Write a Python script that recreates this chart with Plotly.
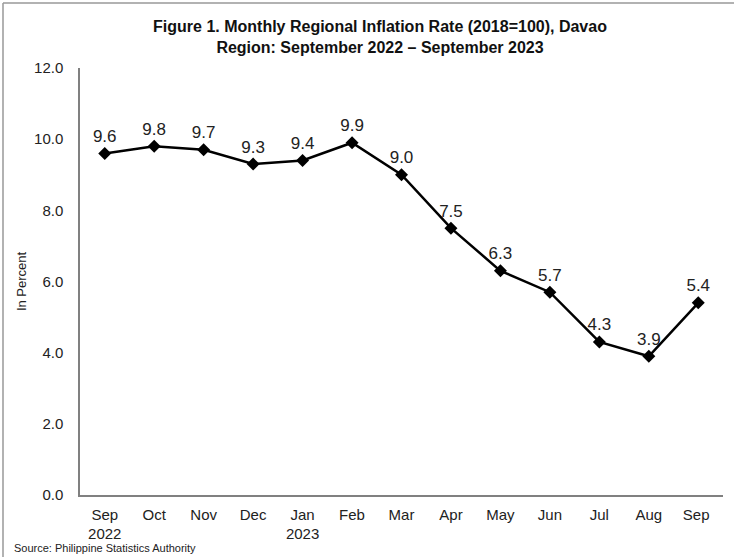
import plotly.graph_objects as go

months = ["Sep<br>2022", "Oct", "Nov", "Dec", "Jan<br>2023", "Feb", "Mar",
          "Apr", "May", "Jun", "Jul", "Aug", "Sep "]
inflation = [9.6, 9.8, 9.7, 9.3, 9.4, 9.9, 9.0, 7.5, 6.3, 5.7, 4.3, 3.9, 5.4]
y_ticks = [0, 2, 4, 6, 8, 10, 12]
y_tick_labels = ["0.0", "2.0", "4.0", "6.0", "8.0", "10.0", "12.0"]

W, H = 734, 557
L, R, T, B = 80, 11, 68, 62
pw, ph = W - L - R, H - T - B
FONT = "Liberation Sans, Arial, sans-serif"

fig = go.Figure()
fig.add_trace(go.Scatter(
    x=months, y=inflation,
    mode="lines+markers+text",
    line=dict(color="black", width=2.5),
    marker=dict(symbol="diamond", size=10, color="black"),
    text=[f"{v:.1f}" for v in inflation],
    textposition="top center",
    textfont=dict(family=FONT, size=17, color="#222"),
    cliponaxis=False,
    showlegend=False,
    hoverinfo="skip",
))

fig.update_layout(
    width=W, height=H,
    margin=dict(l=L, r=R, t=T, b=B),
    paper_bgcolor="white", plot_bgcolor="white",
    title=dict(
        text="<b>Figure 1. Monthly Regional Inflation Rate (2018=100), Davao<br>Region: September 2022 – September 2023</b>",
        x=380 / W, xanchor="center", y=1 - 32 / H, yanchor="middle",
        font=dict(family="Liberation Sans Narrow, Arial Narrow, " + FONT, size=16, color="#111"),
    ),
    xaxis=dict(
        type="category", range=[-0.5, 12.5],
        showline=True, linecolor="#808080", linewidth=1.5,
        ticks="", showgrid=False, ticklabelstandoff=5,
        tickfont=dict(family=FONT, size=15, color="#222"),
    ),
    yaxis=dict(
        range=[0, 12], tickvals=y_ticks, ticktext=y_tick_labels,
        showline=True, linecolor="#808080", linewidth=1.5,
        ticks="", showgrid=False, zeroline=False, ticklabelstandoff=12,
        tickfont=dict(family=FONT, size=15, color="#222"),
        title=dict(text="In Percent", standoff=4,
                   font=dict(family=FONT, size=13, color="#222")),
    ),
)

fig.add_annotation(
    text="Source: Philippine Statistics Authority",
    xref="paper", yref="paper",
    x=(12 - L) / pw, y=-(548 - (T + ph)) / ph,
    xanchor="left", yanchor="middle", showarrow=False,
    font=dict(family=FONT, size=11, color="#222"),
)

# image border (top and left)
fig.add_shape(type="line", xref="paper", yref="paper",
              x0=(3 - L) / pw, x1=(W - L) / pw, y0=1 + (T - 3) / ph, y1=1 + (T - 3) / ph,
              line=dict(color="#999", width=1.5))
fig.add_shape(type="line", xref="paper", yref="paper",
              x0=(3 - L) / pw, x1=(3 - L) / pw, y0=1 + (T - 3) / ph, y1=-(H - T - ph) / ph,
              line=dict(color="#999", width=1.5))

fig.write_html("out.html", config={"displayModeBar": False},
               post_script="document.body.style.margin='0';")
